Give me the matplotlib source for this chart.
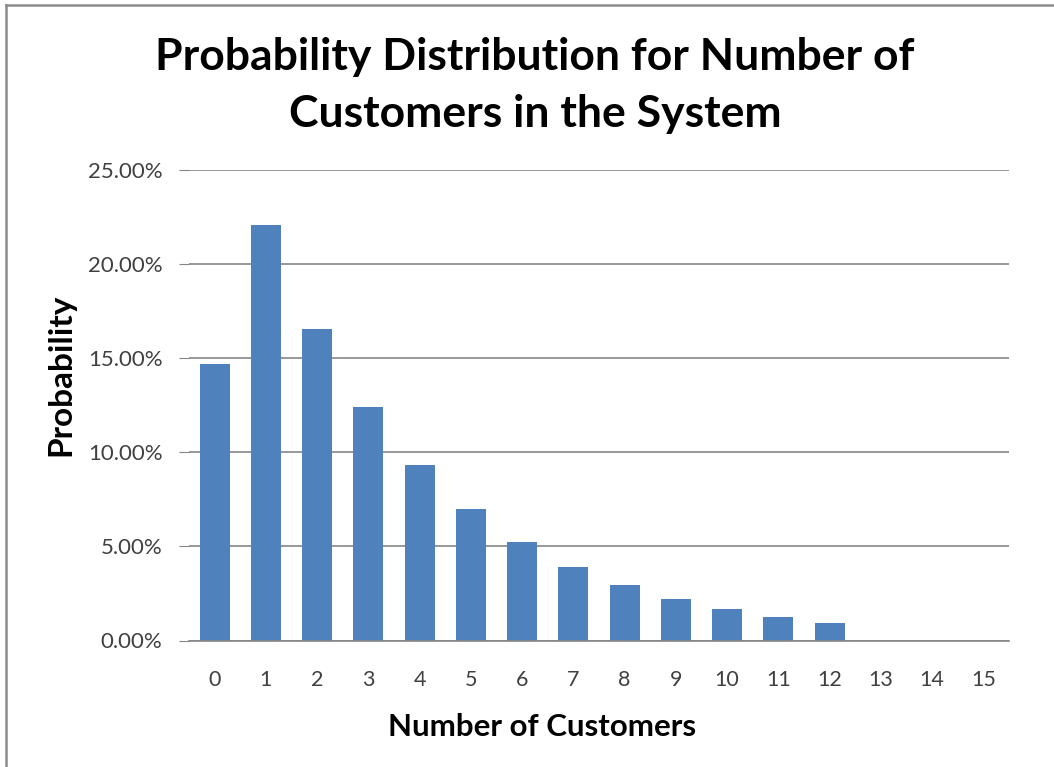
import matplotlib.pyplot as plt
from matplotlib.ticker import PercentFormatter
from matplotlib.lines import Line2D

customers = list(range(16))
probability = [14.71, 22.06, 16.55, 12.41, 9.31, 6.98, 5.24, 3.93,
               2.95, 2.21, 1.66, 1.24, 0.93, 0.0, 0.0, 0.0]
y_ticks = [0, 5, 10, 15, 20, 25]

BAR = "#4f81bd"
GRID = "#868686"
TXT = "#404040"
FONT = "Lato"

fig = plt.figure(figsize=(10.54, 7.67), dpi=100)
ax = fig.add_axes([189 / 1054, 1 - 640.5 / 767, 820 / 1054, 470.5 / 767])

ax.bar(customers, probability, width=0.59, color=BAR, zorder=2)
ax.set_xlim(-0.5, 15.5)
ax.set_ylim(0, 25)
ax.set_yticks(y_ticks)
ax.yaxis.set_major_formatter(PercentFormatter(decimals=2))
ax.set_xticks(customers)
ax.grid(axis="y", color=GRID, linewidth=1.2, zorder=0)

for s in ["top", "right", "left"]:
    ax.spines[s].set_visible(False)
ax.spines["bottom"].set_color(GRID)
ax.spines["bottom"].set_linewidth(1.2)
ax.tick_params(axis="x", length=0, pad=21, labelsize=15.5, labelcolor=TXT)
ax.tick_params(axis="y", length=7, color=GRID, pad=12, labelsize=16, labelcolor=TXT)
for lab in ax.get_xticklabels() + ax.get_yticklabels():
    lab.set_fontfamily(FONT)

fig.text(535 / 1054, 1 - 57 / 767, "Probability Distribution for Number of",
         ha="center", va="center", fontsize=32, fontweight="bold", family=FONT)
fig.text(535 / 1054, 1 - 114 / 767, "Customers in the System",
         ha="center", va="center", fontsize=32, fontweight="bold", family=FONT)
fig.text(61 / 1054, 1 - 375 / 767, "Probability", rotation=90,
         ha="center", va="center", fontsize=24, fontweight="bold", family=FONT)
fig.text(542 / 1054, 1 - 727 / 767, "Number of Customers",
         ha="center", va="center", fontsize=22.5, fontweight="bold", family=FONT)

# chart area border (only top and left edges visible)
fig.add_artist(Line2D([6 / 1054, 6 / 1054], [0, 1 - 5 / 767], transform=fig.transFigure,
                      color="#8c8c8c", linewidth=1.8))
fig.add_artist(Line2D([6 / 1054, 1], [1 - 5 / 767, 1 - 5 / 767], transform=fig.transFigure,
                      color="#8c8c8c", linewidth=1.8))

fig.savefig("out.png", dpi=100)
